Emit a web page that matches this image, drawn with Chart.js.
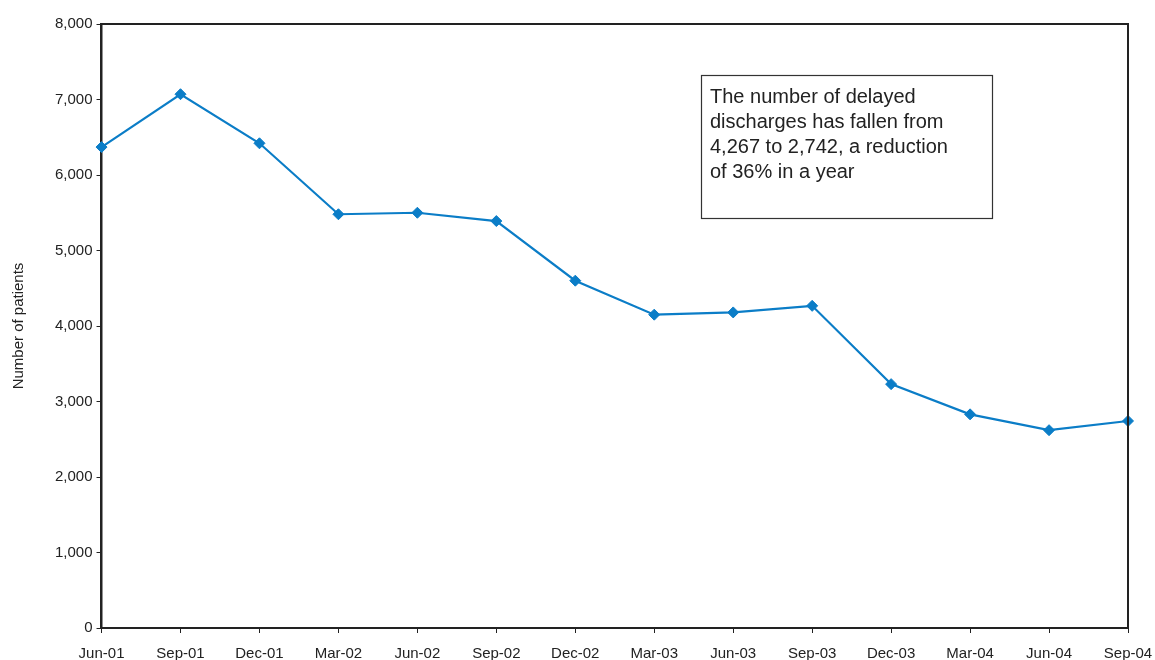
<!DOCTYPE html>
<html>
<head>
<meta charset="utf-8">
<script src="https://cdn.jsdelivr.net/npm/chart.js@4/dist/chart.umd.min.js"></script>
<style>
  html, body { margin: 0; padding: 0; background: #ffffff; }
  #wrap { width: 1155px; height: 660px; }
</style>
</head>
<body>
<div id="wrap"><canvas id="c" width="1155" height="660"></canvas></div>
<script>
// Quarterly delayed discharges
const quarters = ['Jun-01','Sep-01','Dec-01','Mar-02','Jun-02','Sep-02','Dec-02','Mar-03','Jun-03','Sep-03','Dec-03','Mar-04','Jun-04','Sep-04'];
const patients = [6370, 7070, 6420, 5480, 5500, 5390, 4600, 4150, 4180, 4267, 3230, 2830, 2620, 2742];
const yTicks = [0, 1000, 2000, 3000, 4000, 5000, 6000, 7000, 8000];
const noteLines = ['The number of delayed', 'discharges has fallen from', '4,267 to 2,742, a reduction', 'of 36% in a year'];

const FONT = '"Liberation Sans", Arial, sans-serif';
const INK = '#222222';
const BLUE = '#0b7dc7';

// Frame on the top and right of the plot area, plus the note box
const framePlugin = {
  id: 'frame',
  afterDraw(chart) {
    const { ctx, chartArea: a } = chart;
    ctx.save();
    ctx.strokeStyle = INK;
    ctx.lineWidth = 2;
    ctx.beginPath();
    ctx.moveTo(a.left, a.top);
    ctx.lineTo(a.right, a.top);
    ctx.lineTo(a.right, a.bottom);
    ctx.stroke();

    // note box
    const bx = 701, by = 75, bw = 291, bh = 143;
    ctx.lineWidth = 1.2;
    ctx.strokeStyle = '#333333';
    ctx.strokeRect(bx + 0.5, by + 0.5, bw, bh);
    ctx.fillStyle = INK;
    ctx.font = '20px ' + FONT;
    ctx.textBaseline = 'alphabetic';
    ctx.textAlign = 'left';
    noteLines.forEach((t, i) => ctx.fillText(t, bx + 9, by + 28 + i * 25));
    ctx.restore();
  }
};

new Chart(document.getElementById('c'), {
  type: 'line',
  data: {
    labels: quarters,
    datasets: [{
      data: patients,
      borderColor: BLUE,
      backgroundColor: BLUE,
      borderWidth: 2.2,
      pointStyle: 'rectRot',
      pointRadius: 5.5,
      pointHoverRadius: 5.5,
      pointBorderWidth: 1,
      tension: 0,
      fill: false
    }]
  },
  options: {
    responsive: false,
    animation: false,
    devicePixelRatio: 1,
    layout: { padding: { top: 24, right: 27, bottom: 0, left: 10 } },
    plugins: {
      legend: { display: false },
      tooltip: { enabled: false }
    },
    scales: {
      x: {
        offset: false,
        afterFit(scale) {
          scale.height = 32;
          scale.paddingLeft = 0;
          scale.paddingRight = 20;
        },
        border: { color: INK, width: 2 },
        grid: { display: true, drawOnChartArea: false, drawTicks: true, tickLength: 5, color: INK, lineWidth: 1 },
        ticks: { color: INK, font: { family: FONT, size: 15 }, maxRotation: 0, autoSkip: false, padding: 12 }
      },
      y: {
        min: 0,
        max: 8000,
        afterBuildTicks(scale) { scale.ticks = yTicks.map(v => ({ value: v })); },
        border: { color: INK, width: 2.5 },
        grid: { display: true, drawOnChartArea: false, drawTicks: true, tickLength: 5, color: INK, lineWidth: 1 },
        ticks: {
          color: INK,
          font: { family: FONT, size: 15 },
          padding: 4,
          callback: v => v.toLocaleString('en-US')
        },
        title: {
          display: true,
          text: 'Number of patients',
          color: INK,
          font: { family: FONT, size: 15 },
          padding: { top: 0, bottom: 23 }
        }
      }
    }
  },
  plugins: [framePlugin]
});
</script>
</body>
</html>
